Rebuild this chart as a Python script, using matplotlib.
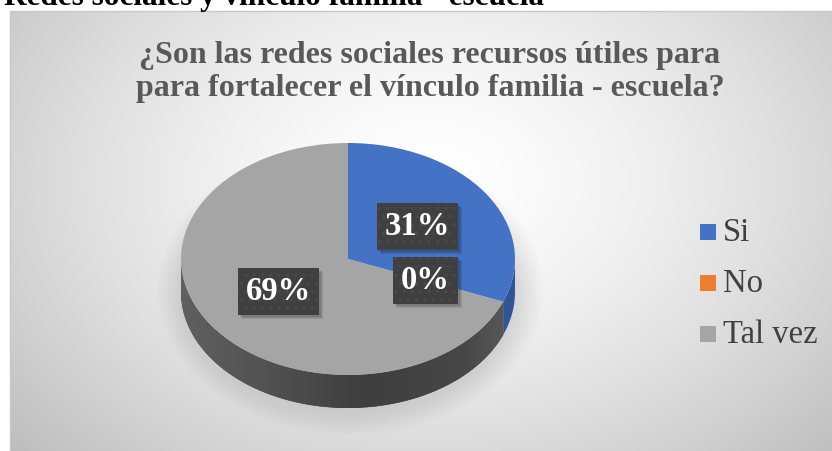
import numpy as np
import matplotlib
matplotlib.use("Agg")
import matplotlib.pyplot as plt
from matplotlib.patches import Polygon, Ellipse, Rectangle
from matplotlib.colors import LinearSegmentedColormap

# ---- data ----
categories = ["Si", "No", "Tal vez"]
values = [31, 0, 69]
colors = ["#4472C4", "#ED7D31", "#A5A5A5"]
rim_colors = ["#2F5597", "#B85A1C", None]
title = "¿Son las redes sociales recursos útiles para\npara fortalecer el vínculo familia - escuela?"
caption = "Redes sociales y vínculo familia - escuela"

W, H = 832, 451
fig = plt.figure(figsize=(W / 100, H / 100), dpi=100)
fig.patch.set_facecolor("white")

# background axes in pixel coords
bg = fig.add_axes([0, 0, 1, 1], zorder=0)
bg.set_xlim(0, W)
bg.set_ylim(H, 0)
bg.axis("off")

# chart area gradient
x0, y0 = 10, 11
xs = np.linspace(x0, W, 400)
ys = np.linspace(y0, H, 220)
XX, YY = np.meshgrid(xs, ys)
r = np.sqrt(((XX - 430) / 460) ** 2 + ((YY - 180) / 330) ** 2)
val = 1 - 0.19 * np.clip(r, 0, 1.3) ** 1.5
img = np.dstack([val, val, val])
bg.imshow(img, extent=(x0, W, H, y0), aspect="auto", zorder=0, interpolation="bilinear")
bg.add_patch(Rectangle((x0, y0), W - x0 + 5, H - y0 + 5, fill=False, ec="#c8c8c8", lw=1, zorder=1))

# soft shadow under pie
for k in range(14):
    f = k / 13
    bg.add_patch(Ellipse((350, 290), 385 - 50 * f, 290 - 50 * f, color="#7a7a7a", alpha=0.012, lw=0, zorder=1))

# clipped caption at top
bg.text(4, 4.5, caption, fontsize=22.5, fontweight="bold", family="Liberation Serif",
        color="black", ha="left", va="baseline", zorder=3)

# title
fig.text(430 / W, 1 - 72 / H, title, ha="center", va="center", fontsize=23,
         fontweight="bold", family="Liberation Serif", color="#595959", linespacing=1.22)

# ---- pie ----
cx, cy, a_px, b_px, depth = 348, 259, 167, 116, 33
dd = depth / b_px
pax = fig.add_axes([(cx - a_px) / W, (H - (cy + b_px + depth)) / H, 2 * a_px / W, (2 * b_px + depth) / H], zorder=2)
pax.patch.set_alpha(0)

wedges, texts, autotexts = pax.pie(values, colors=colors, startangle=90, counterclock=False,
                                   radius=1, autopct="%1.0f%%", pctdistance=0.5,
                                   wedgeprops=dict(lw=0, zorder=3))
pax.set_aspect("auto")
pax.set_xlim(-1, 1)
pax.set_ylim(-1 - dd, 1)
pax.axis("off")

rim_cmap = LinearSegmentedColormap.from_list("rim", [(0, "#606060"), (0.25, "#525252"), (0.55, "#3e3e3e"),
                                                     (0.85, "#474747"), (1, "#5c5c5c")])
grad = np.linspace(0, 1, 256).reshape(1, -1)

for wdg, rc in zip(wedges, rim_colors):
    t1, t2 = wdg.theta1, wdg.theta2
    if t2 - t1 <= 0:
        continue
    for k in range(-2, 3):
        lo, hi = max(t1, -180 + 360 * k), min(t2, 0 + 360 * k)
        if hi <= lo:
            continue
        th = np.radians(np.linspace(lo, hi, 120))
        top = np.column_stack([np.cos(th), np.sin(th)])
        bot = np.column_stack([np.cos(th[::-1]), np.sin(th[::-1]) - dd])
        poly = Polygon(np.vstack([top, bot]), closed=True, lw=0, zorder=2,
                       fc=rc if rc else "#454545")
        pax.add_patch(poly)
        if rc is None:
            im = pax.imshow(grad, cmap=rim_cmap, extent=(-1, 1, -1 - dd, 0), aspect="auto", zorder=2.5)
            im.set_clip_path(poly)

LFS = 23.5
for t in autotexts:
    t.set_fontsize(LFS)
    t.set_fontweight("bold")
    t.set_family("Liberation Serif")
    t.set_color("white")
    t.set_zorder(6)
    t.set_bbox(dict(boxstyle="square,pad=0.24", fc="#404040", ec="#4a4a4a", lw=0, hatch=".."))

# ---- legend ----
leg_y = [232, 283, 334]
for cat, col, ly in zip(categories, colors, leg_y):
    bg.add_patch(Rectangle((700, ly - 8), 16, 16, fc=col, lw=0, zorder=3))
    bg.text(723, ly + 1, cat, fontsize=23.5, family="Liberation Serif", color="#404040",
            ha="left", va="center", zorder=3)

# soft drop shadows behind label boxes (placed after measuring them)
fig.canvas.draw()
for t in autotexts:
    bb = t.get_bbox_patch().get_window_extent()
    for s in [4, 3, 2]:
        shadow = Rectangle((bb.x0 + s, bb.y0 - s), bb.width, bb.height, transform=None,
                           fc="black", alpha=0.09, lw=0, zorder=5, clip_on=False)
        pax.add_artist(shadow)

fig.savefig("out.png", dpi=100)
